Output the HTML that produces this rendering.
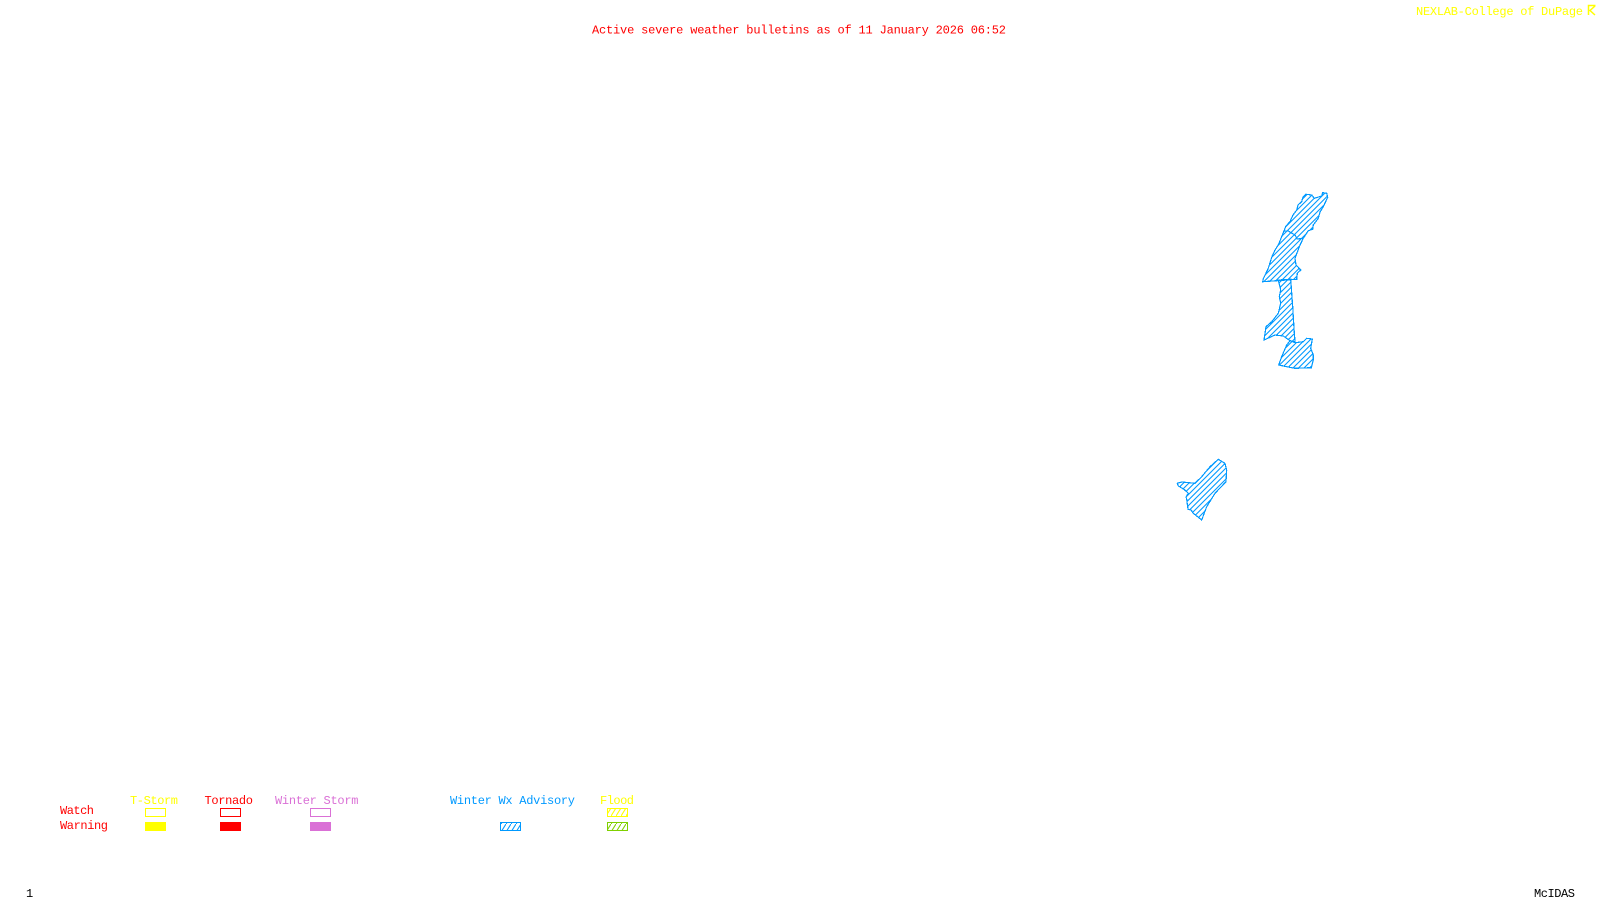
<!DOCTYPE html>
<html>
<head>
<meta charset="utf-8">
<style>
html,body{margin:0;padding:0;background:#fff;width:1600px;height:900px;overflow:hidden}
svg{display:block}
text{font-family:"Liberation Mono",monospace;font-size:12px}
</style>
</head>
<body>
<svg width="1600" height="900" viewBox="0 0 1600 900" xmlns="http://www.w3.org/2000/svg">
<defs>
<pattern id="hb" patternUnits="userSpaceOnUse" width="5.500" height="5.500">
<path d="M-1 6.500L6.500 -1M-1 1L1 -1M4.500 6.500L6.500 4.500" stroke="#0099ff" stroke-width="1.100" fill="none"/>
</pattern>
<pattern id="hbox" patternUnits="userSpaceOnUse" width="5" height="8" x="1">
<path d="M0 8L5 0" stroke="#0099ff" stroke-width="1.100"/>
</pattern>
<pattern id="hy" patternUnits="userSpaceOnUse" width="5" height="8" x="1">
<path d="M0 8L5 0" stroke="#ffff00" stroke-width="1.100"/>
</pattern>
<pattern id="hg" patternUnits="userSpaceOnUse" width="5" height="8" x="1">
<path d="M0 8L5 0" stroke="#7fd000" stroke-width="1.100"/>
</pattern>
</defs>
<rect width="1600" height="900" fill="#fff"/>

<text x="592" y="33.500" fill="#ff0000" textLength="414" lengthAdjust="spacing">Active severe weather bulletins as of 11 January 2026 06:52</text>
<text x="1416" y="15" fill="#ffff00" textLength="167" lengthAdjust="spacing">NEXLAB-College of DuPage</text>
<path d="M1588.500 15V5.500H1595.500M1595 6L1590 10.500L1595 15" stroke="#ffff00" stroke-width="1.500" fill="none"/>

<g fill="url(#hb)" stroke="#0099ff" stroke-width="1.200" stroke-linejoin="miter" shape-rendering="crispEdges">
<polygon points="1284,231 1286,226 1290,221.700 1293,215 1296.700,210 1298,205 1301.700,201.700 1303,197 1306,194.300 1311.700,195 1314.300,198.300 1321.700,196 1322.700,192.700 1326.700,193.300 1327.700,197.300 1323.300,206.700 1320,212 1318.300,218.300 1313.300,225 1312.700,229.300 1308.300,230.700 1303.300,238.300 1297.300,239 1295,235 1288.300,231"/>
<polygon points="1284,231 1278.300,245 1275,250 1271.700,257.300 1268.300,268.300 1263.300,278.700 1262.700,281.700 1296.700,279.300 1297.300,273.300 1300.700,270 1296,265 1295,258.300 1300,245 1303.300,238.300 1297.300,239 1295,235 1288.300,231"/>
<polygon points="1278.300,280 1290.700,279.300 1291.700,293.300 1292.700,306.700 1294,328.300 1295,341.700 1290,340.700 1283.300,336 1275,335 1264,340 1266,326.700 1271.700,321.700 1278.300,313.300 1280.700,303.300 1279.300,296.700 1280.700,290"/>
<polygon points="1290,340.700 1295,342.700 1303.300,341.700 1306.700,338.300 1312.300,339 1310.700,348.300 1313.300,355 1313.300,360 1311.300,367.700 1295,368.300 1286.700,366.700 1278.700,365 1281.700,356.700 1286.700,345"/>
<polygon points="1177.300,483.300 1181.700,482 1195,483.300 1201.700,476.700 1210,466.700 1218.300,459.300 1225,463.300 1226.700,470 1226,481.700 1215,493.300 1206.700,506.700 1201.700,520 1193.300,513.300 1191,510 1188,509.300 1186.700,499.300 1186,497 1188.300,493.300 1184,489.300 1178.300,486"/>
</g>

<text x="130" y="804" fill="#ffff00" textLength="48" lengthAdjust="spacing">T-Storm</text>
<text x="204.500" y="804" fill="#ff0000" textLength="48.500" lengthAdjust="spacing">Tornado</text>
<text x="275" y="804" fill="#da70d6" textLength="83.500" lengthAdjust="spacing">Winter Storm</text>
<text x="450" y="804" fill="#0099ff" textLength="125" lengthAdjust="spacing">Winter Wx Advisory</text>
<text x="600" y="804" fill="#ffff00" textLength="34" lengthAdjust="spacing">Flood</text>
<text x="60" y="814" fill="#ff0000" textLength="34" lengthAdjust="spacing">Watch</text>
<text x="60" y="829" fill="#ff0000" textLength="48" lengthAdjust="spacing">Warning</text>

<g shape-rendering="crispEdges" stroke-width="1">
<rect x="145.500" y="808.500" width="20" height="8" fill="none" stroke="#ffff00"/>
<rect x="145" y="822" width="21" height="9" fill="#ffff00"/>
<rect x="220.500" y="808.500" width="20" height="8" fill="none" stroke="#ff0000"/>
<rect x="220" y="822" width="21" height="9" fill="#ff0000"/>
<rect x="310.500" y="808.500" width="20" height="8" fill="none" stroke="#da70d6"/>
<rect x="310" y="822" width="21" height="9" fill="#da70d6"/>
<rect x="500.500" y="822.500" width="20" height="8" fill="url(#hbox)" stroke="#0099ff"/>
<rect x="607.500" y="808.500" width="20" height="8" fill="url(#hy)" stroke="#ffff00"/>
<rect x="607.500" y="822.500" width="20" height="8" fill="url(#hg)" stroke="#7fd000"/>
</g>

<text x="26" y="897" fill="#000" textLength="7" lengthAdjust="spacing">1</text>
<text x="1534" y="897" fill="#000" textLength="41" lengthAdjust="spacing">McIDAS</text>
</svg>
</body>
</html>
